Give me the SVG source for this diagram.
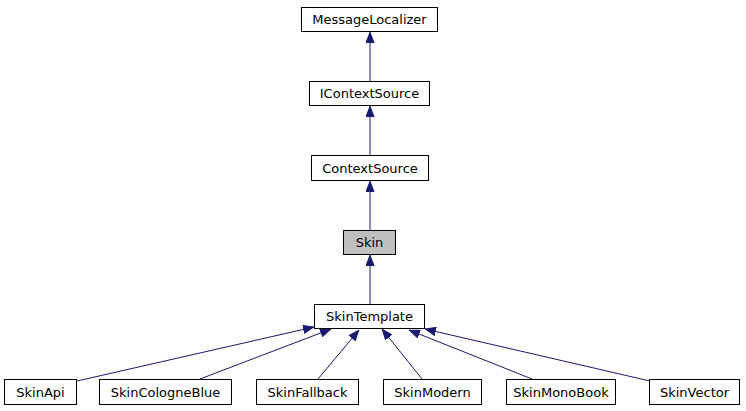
<svg xmlns="http://www.w3.org/2000/svg" width="746" height="411" viewBox="0 0 746 411">
<style>
.n rect{fill:#fff;stroke:#000;stroke-width:1}
.n.cur rect{fill:#bfbfbf}
.n text{font-family:"DejaVu Sans",sans-serif;font-size:13px;text-anchor:middle;fill:#000}
.e line{stroke:#191970;stroke-width:1}
</style>
<defs>
<marker id="a" viewBox="0 0 11 9" refX="11" refY="4.5" markerWidth="11" markerHeight="9" markerUnits="userSpaceOnUse" orient="auto">
<path d="M0.5,0.5 L10.5,4.5 L0.5,8.5 Z" fill="#191970" stroke="#191970"/>
</marker>
</defs>
<rect width="746" height="411" fill="#fff"/>
<g id="edges" class="e">
<line x1="370" y1="81" x2="370" y2="32" marker-end="url(#a)"/>
<line x1="370" y1="155" x2="370" y2="106" marker-end="url(#a)"/>
<line x1="370" y1="230" x2="370" y2="181" marker-end="url(#a)"/>
<line x1="370" y1="304" x2="370" y2="255" marker-end="url(#a)"/>
<line x1="77" y1="381" x2="314" y2="327" marker-end="url(#a)"/>
<line x1="200" y1="379" x2="331" y2="329" marker-end="url(#a)"/>
<line x1="318" y1="379" x2="359" y2="330" marker-end="url(#a)"/>
<line x1="422" y1="379" x2="382" y2="329" marker-end="url(#a)"/>
<line x1="532" y1="379" x2="409" y2="330" marker-end="url(#a)"/>
<line x1="650" y1="381" x2="425" y2="329" marker-end="url(#a)"/>
</g>
<g id="MessageLocalizer" class="n"><rect x="301.5" y="7.5" width="136" height="24"/><text x="369.5" y="24">MessageLocalizer</text></g>
<g id="IContextSource" class="n"><rect x="309.5" y="81.5" width="120" height="24"/><text x="369.5" y="98">IContextSource</text></g>
<g id="ContextSource" class="n"><rect x="311.5" y="155.5" width="117" height="25"/><text x="370" y="172.5">ContextSource</text></g>
<g id="Skin" class="n cur"><rect x="343.5" y="230.5" width="52" height="24"/><text x="369.5" y="247">Skin</text></g>
<g id="SkinTemplate" class="n"><rect x="314.5" y="304.5" width="110" height="24"/><text x="369.5" y="321">SkinTemplate</text></g>
<g id="SkinApi" class="n"><rect x="4.5" y="379.5" width="72" height="25"/><text x="40.5" y="396.5">SkinApi</text></g>
<g id="SkinCologneBlue" class="n"><rect x="99.5" y="379.5" width="132" height="25"/><text x="165.5" y="396.5">SkinCologneBlue</text></g>
<g id="SkinFallback" class="n"><rect x="256.5" y="379.5" width="102" height="25"/><text x="307.5" y="396.5">SkinFallback</text></g>
<g id="SkinModern" class="n"><rect x="383.5" y="379.5" width="98" height="25"/><text x="432.5" y="396.5">SkinModern</text></g>
<g id="SkinMonoBook" class="n"><rect x="506.5" y="379.5" width="109" height="25"/><text x="561" y="396.5">SkinMonoBook</text></g>
<g id="SkinVector" class="n"><rect x="649.5" y="379.5" width="90" height="25"/><text x="694.5" y="396.5">SkinVector</text></g>
</svg>
